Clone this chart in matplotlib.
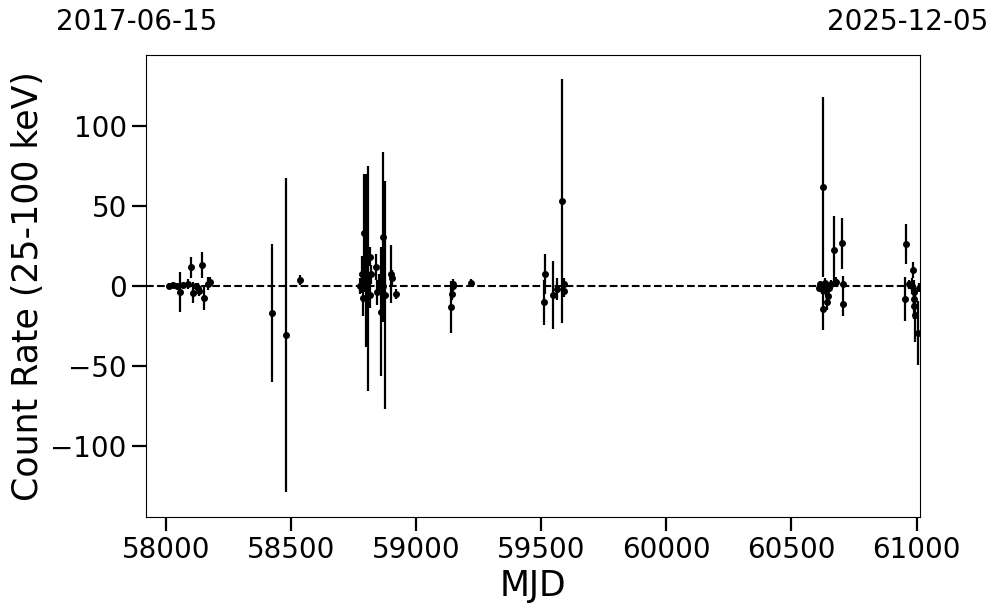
import matplotlib
matplotlib.use("Agg")
import matplotlib.pyplot as plt
import numpy as np

mjd = [58012, 58027, 58043, 58056, 58068, 58087, 58100, 58109, 58120, 58128, 58132,
       58144, 58153, 58167, 58176,
       58423, 58479, 58535,
       58776, 58782, 58788, 58792, 58800, 58808, 58815, 58816, 58819, 58839, 58843,
       58852, 58859, 58866, 58867, 58876, 58899, 58902, 58919,
       59141, 59142, 59147, 59149, 59219,
       59511, 59514, 59547, 59562, 59585, 59591, 59593,
       60610, 60616, 60622, 60626, 60627, 60630, 60636, 60640, 60644, 60646, 60652, 60660,
       60670, 60677, 60704, 60706, 60708,
       60954, 60956, 60970, 60983, 60986, 60988, 60990, 60991, 60993, 61007, 61010]
rate = [0.0, 0.6, 0.0, -3.6, 0.5, 1.2, 11.7, -4.2, 0.0, -1.0, -3.0,
        13.1, -7.3, 1.3, 2.5,
        -16.7, -30.6, 3.7,
        0.0, 7.3, -7.7, 33.0, 16.0, 4.5, 18.3, -5.6, 7.3, 12.0, -4.0,
        1.5, -16.0, 30.4, 0.0, -5.6, 7.3, 5.0, -5.0,
        -13.0, -5.0, 0.0, 1.5, 2.1,
        -10.2, 7.5, -5.6, -2.0, 53.0, 1.2, -2.9,
        -1.0, 1.0, -2.0, 61.6, -14.5, 0.0, 2.0, -3.0, -9.8, -6.0, -1.0, 1.0,
        22.5, 2.5, 26.6, 1.2, -11.2,
        -8.1, 26.2, 1.0, 0.0, 10.0, -4.0, -8.0, -12.4, -18.0, -29.5, -1.0]
err = [2, 2, 2, 12.5, 2, 3, 6.5, 6.5, 2, 3, 3,
       8.3, 7.5, 4, 3,
       43, 98, 3,
       5, 11.5, 11, 37, 54, 70, 6, 8, 6, 8, 8,
       6, 40, 53, 4, 71, 18, 5, 3,
       16, 4, 3, 3, 2,
       14, 12.5, 21, 7, 76, 4, 4,
       2, 2, 3, 56, 13, 2, 3, 3, 5, 4, 3, 3,
       21, 3, 16, 5, 7.5,
       14, 12.5, 3, 5, 5, 8, 6, 8, 17, 20, 3]

xlim = (57919, 61014)
date_labels = ["2017-06-15", "2025-12-05"]

fig = plt.figure(figsize=(9.97, 6.13), dpi=100)
ax = fig.add_axes([0.146, 0.1566, 0.7768, 0.7537])

ax.errorbar(mjd, rate, yerr=err, fmt='o', color='black', ms=4,
            elinewidth=1.6, capsize=0, zorder=3)
ax.axhline(0, color='black', ls='--', lw=1.5, zorder=2)

ax.set_xlim(*xlim)
ax.set_ylim(-144, 144)
ax.set_xticks([58000, 58500, 59000, 59500, 60000, 60500, 61000])
ax.set_yticks([-100, -50, 0, 50, 100])
ax.tick_params(axis='both', which='major', labelsize=20, length=10, width=1.6)
ax.set_xlabel("MJD", fontsize=25)
ax.set_ylabel("Count Rate (25-100 keV)", fontsize=25)

fig.text(0.137, 0.964, date_labels[0], fontsize=20, ha='center', va='center')
fig.text(0.910, 0.964, date_labels[1], fontsize=20, ha='center', va='center')

fig.savefig("out.png", dpi=100)
